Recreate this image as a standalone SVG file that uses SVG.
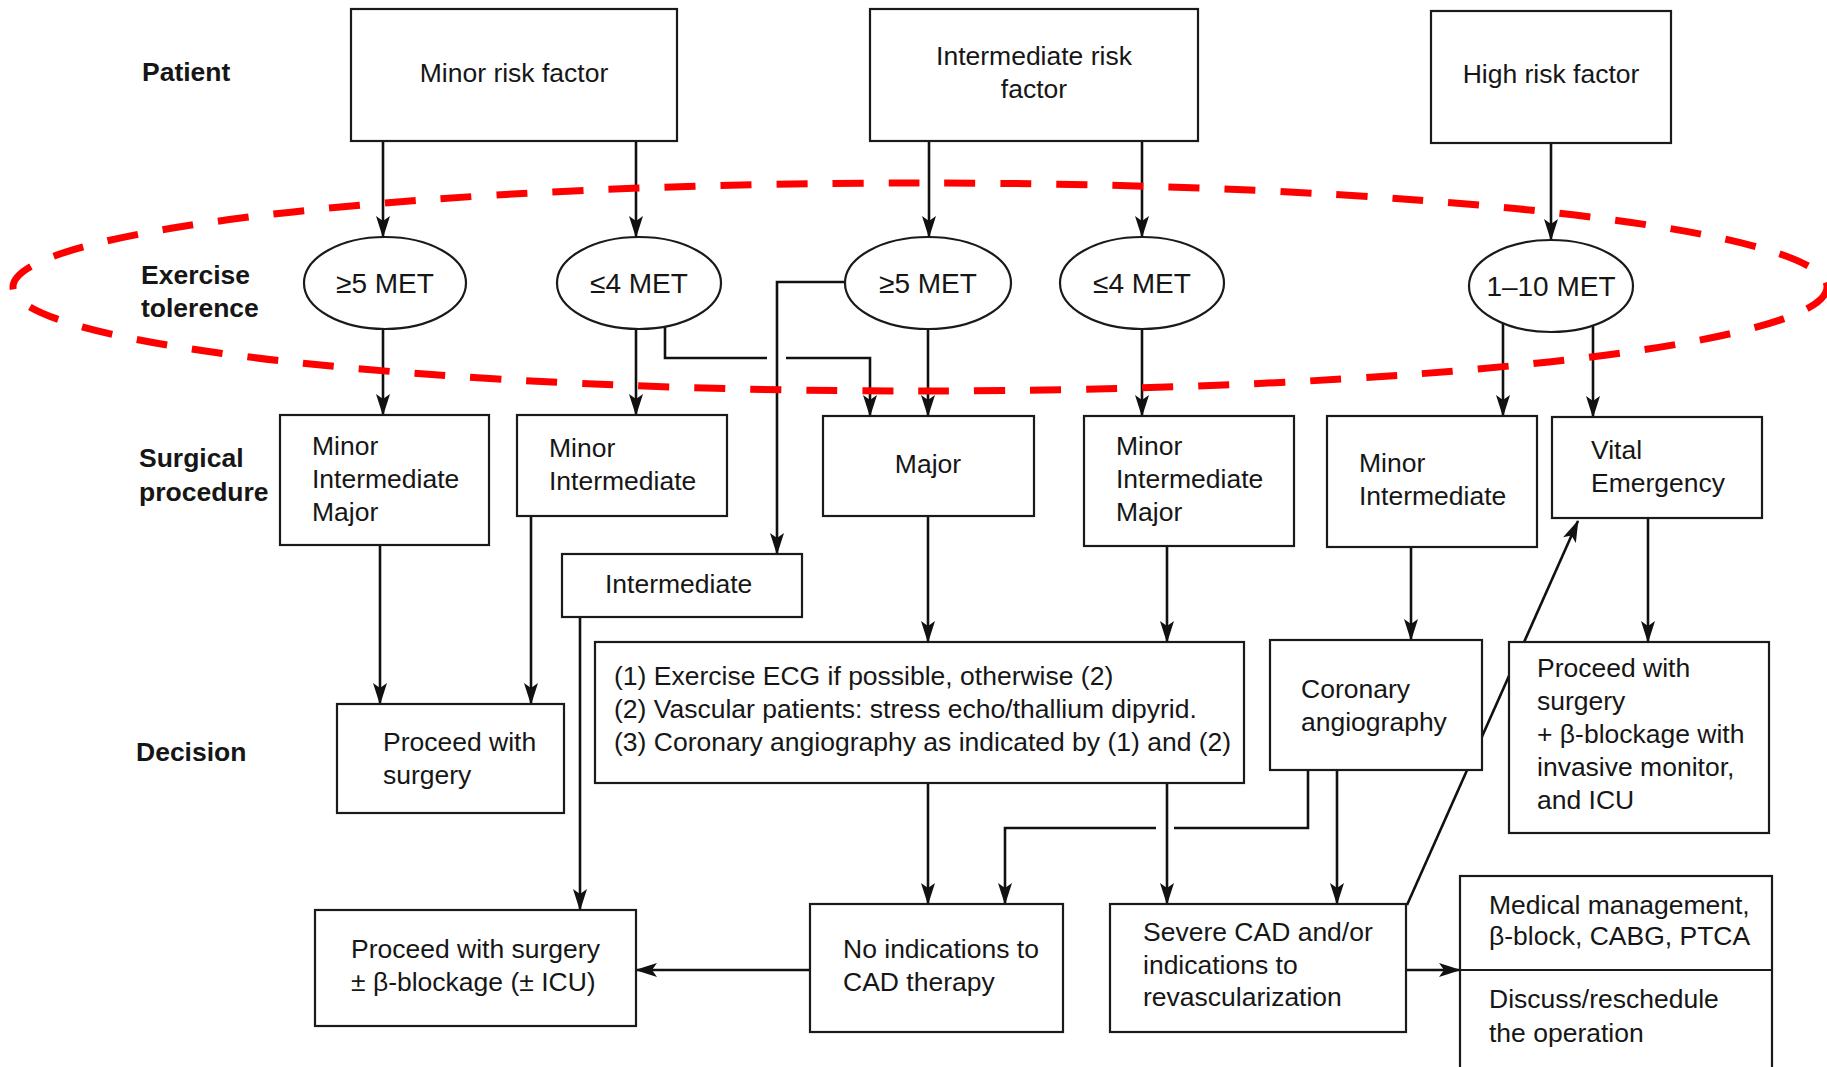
<svg xmlns="http://www.w3.org/2000/svg" width="1827" height="1067" viewBox="0 0 1827 1067">
<defs>
<marker id="ah" markerUnits="userSpaceOnUse" markerWidth="22" markerHeight="14" refX="21" refY="7" orient="auto">
<path d="M0,0 L22,7 L0,14 L5,7 z" fill="#111"/>
</marker>
<style>
.box{fill:#fff;stroke:#1a1a1a;stroke-width:2.2}
.ell{fill:#fff;stroke:#1a1a1a;stroke-width:2.2}
.c{fill:none;stroke:#111;stroke-width:2.6}
.a{marker-end:url(#ah)}
text{font-family:"Liberation Sans",Arial,Helvetica,sans-serif;font-size:26.5px;fill:#161616}
.lbl{font-weight:bold;font-size:26.5px}
.ctr{text-anchor:middle}
.et{font-size:28px;text-anchor:middle}
</style>
</defs>
<rect width="1827" height="1067" fill="#fff"/>

<g id="row-labels">
<text class="lbl" x="142" y="81">Patient</text>
<text class="lbl" x="141" y="284">Exercise</text>
<text class="lbl" x="141" y="317">tolerence</text>
<text class="lbl" x="139" y="467">Surgical</text>
<text class="lbl" x="139" y="501">procedure</text>
<text class="lbl" x="136" y="761">Decision</text>
</g>

<g id="connectors">
<path class="c a" d="M383,141 V237"/>
<path class="c a" d="M636,141 V237"/>
<path class="c a" d="M929,141 V237"/>
<path class="c a" d="M1142,141 V237"/>
<path class="c a" d="M1551,143 V240"/>
<path class="c a" d="M383,300 V415"/>
<path class="c a" d="M636,300 V415"/>
<path class="c" d="M665,300 V358 H767"/>
<path class="c a" d="M786,358 H870 V416"/>
<path class="c a" d="M850,282 H777 V554"/>
<path class="c a" d="M928,300 V416"/>
<path class="c a" d="M1142,300 V416"/>
<path class="c a" d="M1503,300 V416"/>
<path class="c a" d="M1593,300 V417"/>
<path class="c a" d="M380,545 V704"/>
<path class="c a" d="M531,516 V704"/>
<path class="c a" d="M580,617 V910"/>
<path class="c a" d="M928,516 V642"/>
<path class="c a" d="M1167,546 V642"/>
<path class="c a" d="M1411,547 V640"/>
<path class="c a" d="M1648,518 V642"/>
<path class="c a" d="M928,783 V904"/>
<path class="c a" d="M1167,783 V904"/>
<path class="c" d="M1308,770 V828 H1174"/>
<path class="c a" d="M1156,828 H1005 V904"/>
<path class="c a" d="M1337,770 V904"/>
<path class="c a" d="M1407,905 L1578,521"/>
<path class="c a" d="M810,970 H636"/>
<path class="c a" d="M1406,970 H1460"/>
</g>

<g id="n-minor-risk"><rect class="box" x="351" y="9" width="326" height="132"/><text class="ctr" x="514" y="82">Minor risk factor</text></g>
<g id="n-intermediate-risk"><rect class="box" x="870" y="9" width="328" height="132"/><text class="ctr" x="1034" y="65">Intermediate risk</text><text class="ctr" x="1034" y="98">factor</text></g>
<g id="n-high-risk"><rect class="box" x="1431" y="11" width="240" height="132"/><text class="ctr" x="1551" y="83">High risk factor</text></g>

<g id="n-met-1"><ellipse class="ell" cx="385" cy="283" rx="81" ry="46"/><text class="et" x="385" y="293">≥5 MET</text></g>
<g id="n-met-2"><ellipse class="ell" cx="639" cy="283" rx="82" ry="46"/><text class="et" x="639" y="293">≤4 MET</text></g>
<g id="n-met-3"><ellipse class="ell" cx="928" cy="283" rx="83" ry="46"/><text class="et" x="928" y="293">≥5 MET</text></g>
<g id="n-met-4"><ellipse class="ell" cx="1142" cy="283" rx="82" ry="46"/><text class="et" x="1142" y="293">≤4 MET</text></g>
<g id="n-met-5"><ellipse class="ell" cx="1551" cy="286" rx="82" ry="46"/><text class="et" x="1551" y="296">1–10 MET</text></g>

<g id="n-proc-a"><rect class="box" x="280" y="415" width="209" height="130"/><text x="312" y="455">Minor</text><text x="312" y="488">Intermediate</text><text x="312" y="521">Major</text></g>
<g id="n-proc-b"><rect class="box" x="517" y="415" width="210" height="101"/><text x="549" y="457">Minor</text><text x="549" y="490">Intermediate</text></g>
<g id="n-proc-c"><rect class="box" x="823" y="416" width="211" height="100"/><text class="ctr" x="928" y="473">Major</text></g>
<g id="n-proc-d"><rect class="box" x="1084" y="416" width="210" height="130"/><text x="1116" y="455">Minor</text><text x="1116" y="488">Intermediate</text><text x="1116" y="521">Major</text></g>
<g id="n-proc-e"><rect class="box" x="1327" y="416" width="210" height="131"/><text x="1359" y="472">Minor</text><text x="1359" y="505">Intermediate</text></g>
<g id="n-proc-f"><rect class="box" x="1552" y="417" width="210" height="101"/><text x="1591" y="459">Vital</text><text x="1591" y="492">Emergency</text></g>
<g id="n-intermediate"><rect class="box" x="562" y="554" width="240" height="63"/><text x="605" y="593">Intermediate</text></g>

<g id="n-tests"><rect class="box" x="595" y="642" width="649" height="141"/><text x="614" y="685">(1) Exercise ECG if possible, otherwise (2)</text><text x="614" y="718">(2) Vascular patients: stress echo/thallium dipyrid.</text><text x="614" y="751">(3) Coronary angiography as indicated by (1) and (2)</text></g>
<g id="n-coronary"><rect class="box" x="1270" y="640" width="212" height="130"/><text x="1301" y="698">Coronary</text><text x="1301" y="731">angiography</text></g>
<g id="n-proceed-beta"><rect class="box" x="1509" y="642" width="260" height="191"/><text x="1537" y="677">Proceed with</text><text x="1537" y="710">surgery</text><text x="1537" y="743">+ β-blockage with</text><text x="1537" y="776">invasive monitor,</text><text x="1537" y="809">and ICU</text></g>

<g id="n-proceed"><rect class="box" x="337" y="704" width="227" height="109"/><text x="383" y="751">Proceed with</text><text x="383" y="784">surgery</text></g>
<g id="n-proceed-pm"><rect class="box" x="315" y="910" width="321" height="116"/><text x="351" y="958">Proceed with surgery</text><text x="351" y="991">± β-blockage (± ICU)</text></g>
<g id="n-no-ind"><rect class="box" x="810" y="904" width="253" height="128"/><text x="843" y="958">No indications to</text><text x="843" y="991">CAD therapy</text></g>
<g id="n-severe"><rect class="box" x="1110" y="904" width="296" height="128"/><text x="1143" y="941">Severe CAD and/or</text><text x="1143" y="974">indications to</text><text x="1143" y="1006">revascularization</text></g>
<g id="n-medical"><rect class="box" x="1460" y="876" width="312" height="200"/><line x1="1460" y1="970" x2="1772" y2="970" stroke="#1a1a1a" stroke-width="2.2"/><text x="1489" y="914">Medical management,</text><text x="1489" y="945">β-block, CABG, PTCA</text><text x="1489" y="1008">Discuss/reschedule</text><text x="1489" y="1042">the operation</text></g>

<g id="highlight"><ellipse cx="920" cy="287" rx="907" ry="104" fill="none" stroke="#ff0000" stroke-width="7" stroke-dasharray="31 25"/></g>
</svg>
